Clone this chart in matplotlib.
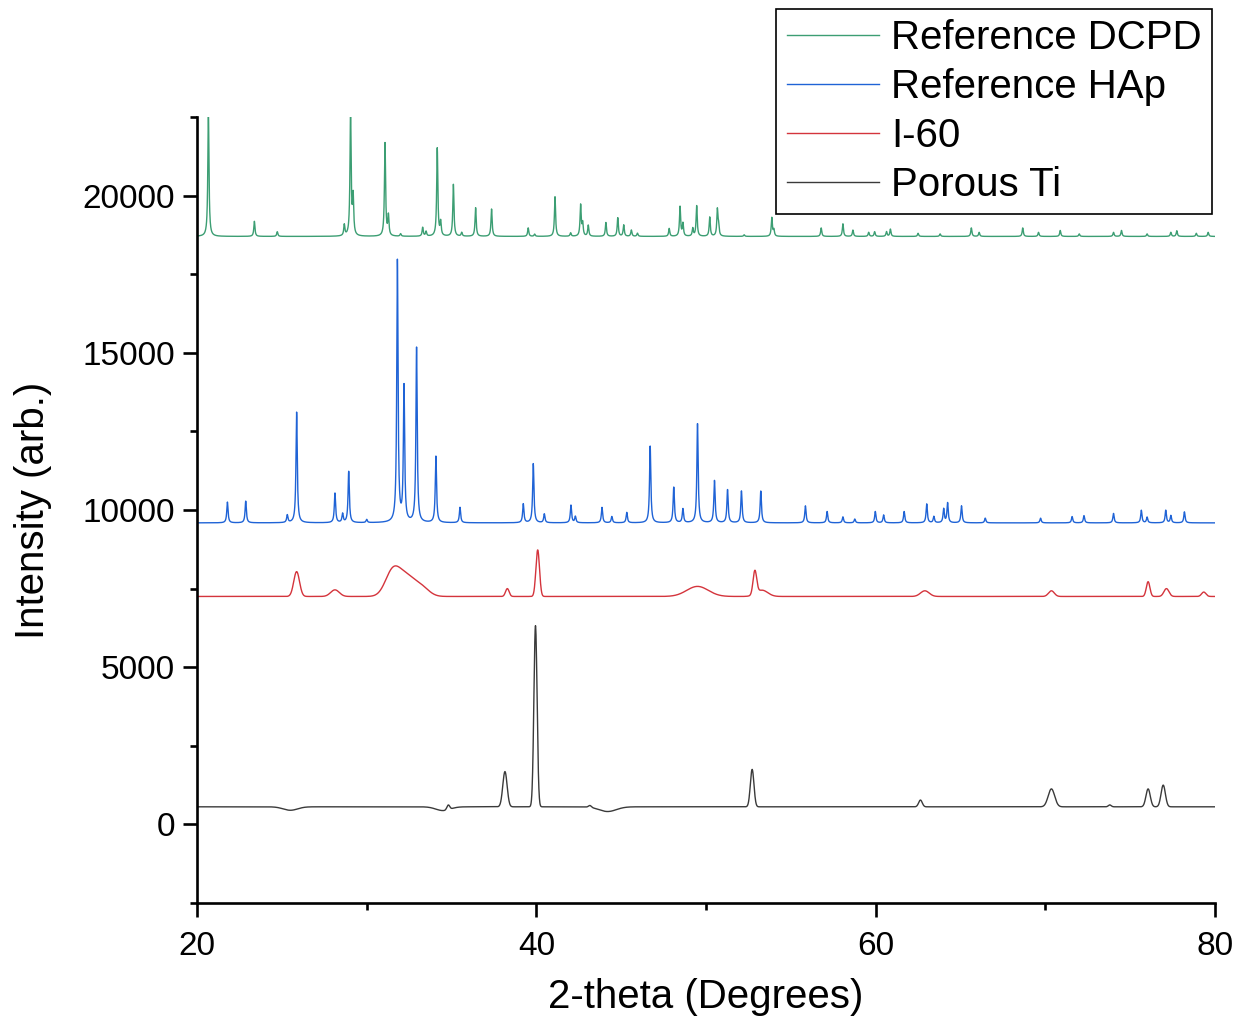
import numpy as np
import matplotlib
matplotlib.use('Agg')
import matplotlib.pyplot as plt
from matplotlib.ticker import MultipleLocator

plt.rcParams['font.family'] = ['Liberation Sans', 'DejaVu Sans']

# peak lists: position (deg), height above baseline, FWHM (deg)
dcpd_base = 18700
dcpd_pos = [20.67, 23.38, 24.73, 28.68, 29.05, 29.2, 31.08, 31.28, 32.0, 33.3, 33.5, 34.16, 34.36,
            35.11, 35.6, 36.42, 37.36, 39.52, 39.9, 41.1, 42.02, 42.61, 42.73, 43.06, 44.1, 44.8,
            45.15, 45.6, 45.96, 47.83, 48.47, 48.64, 49.22, 49.45, 50.22, 50.67, 50.74, 52.25,
            53.88, 54.0, 56.79, 58.07, 58.66, 59.59, 59.94, 60.64, 60.87, 62.5, 63.8, 65.64, 66.1,
            68.67, 69.6, 70.88, 72.0, 74.02, 74.49, 76.0, 77.4, 77.75, 78.9, 79.6]
dcpd_h = [3950, 480, 150, 350, 3950, 1200, 2960, 630, 80, 280, 150, 2800, 430,
          1650, 120, 910, 870, 270, 70, 1260, 110, 990, 400, 350, 440, 590,
          360, 200, 100, 250, 940, 400, 250, 970, 610, 830, 300, 50,
          590, 200, 270, 400, 200, 130, 150, 150, 230, 100, 80, 270, 130,
          270, 130, 190, 80, 130, 190, 80, 130, 180, 100, 130]

hap_base = 9590
hap_pos = [21.79, 22.87, 25.32, 25.87, 28.13, 28.58, 28.94, 30.0, 31.81, 32.2, 32.94, 34.08, 35.5,
           39.23, 39.82, 40.47, 42.04, 42.3, 43.87, 44.45, 45.33, 46.71, 48.1, 48.64, 49.5, 50.5,
           51.27, 52.09, 53.23, 55.86, 57.14, 58.07, 58.77, 59.98, 60.47, 61.68, 63.01, 63.43,
           64.01, 64.24, 65.06, 66.46, 69.72, 71.58, 72.28, 74.02, 75.66, 76.0, 77.1, 77.4, 78.2]
hap_h = [660, 690, 240, 3520, 940, 280, 1630, 100, 8320, 4300, 5560, 2110, 490,
         600, 1880, 280, 560, 200, 490, 200, 330, 2440, 1130, 440, 3150, 1340,
         1050, 1010, 1010, 540, 360, 190, 120, 360, 250, 360, 600, 200,
         440, 630, 540, 150, 150, 200, 230, 300, 400, 180, 400, 230, 350]

i60_base = 7250
i60_pos = [25.87, 28.13, 31.5, 32.3, 33.3, 38.29, 40.08, 49.5, 52.88, 53.3, 62.9, 70.36, 76.06, 77.14, 79.34]
i60_h = [790, 210, 650, 650, 200, 250, 1480, 320, 740, 200, 180, 180, 470, 250, 140]
i60_w = [0.4, 0.6, 1.0, 1.4, 1.0, 0.25, 0.25, 1.5, 0.25, 0.8, 0.6, 0.4, 0.25, 0.35, 0.3]

ti_base = 560
ti_pos = [25.5, 34.5, 34.81, 38.15, 39.95, 43.16, 44.2, 52.72, 62.64, 70.36, 73.8, 76.06, 76.95]
ti_h = [-110, -120, 150, 1120, 5760, 60, -150, 1190, 215, 570, 60, 570, 690]
ti_w = [1.0, 1.0, 0.2, 0.3, 0.22, 0.2, 1.2, 0.25, 0.25, 0.45, 0.2, 0.3, 0.3]

labels = ['Reference DCPD', 'Reference HAp', 'I-60', 'Porous Ti']
colors = ['#3c9e73', '#1f63d6', '#d4343c', '#3a3a3a']


def lorentz(x, pos, h, w):
    y = np.zeros_like(x)
    for p, a in zip(pos, h):
        y += a / (1 + ((x - p) / (w / 2)) ** 2)
    return y


def gauss(x, pos, h, w):
    y = np.zeros_like(x)
    for p, a, s in zip(pos, h, w):
        y += a * np.exp(-4 * np.log(2) * ((x - p) / s) ** 2)
    return y


def main():
    x = np.arange(20, 80.001, 0.01)
    curves = [
        dcpd_base + lorentz(x, dcpd_pos, dcpd_h, 0.08),
        hap_base + lorentz(x, hap_pos, hap_h, 0.09),
        i60_base + gauss(x, i60_pos, i60_h, i60_w),
        ti_base + gauss(x, ti_pos, ti_h, ti_w),
    ]

    fig = plt.figure(figsize=(12.4, 10.25), dpi=100)
    ax = fig.add_axes([0.1589, 0.119, 0.8209, 0.7669])
    for y, lab, c in zip(curves, labels, colors):
        ax.plot(x, y, color=c, lw=1.0, label=lab)

    ax.set_xlim(20, 80)
    ax.set_ylim(-2500, 22500)
    ax.xaxis.set_major_locator(MultipleLocator(20))
    ax.xaxis.set_minor_locator(MultipleLocator(10))
    ax.yaxis.set_major_locator(MultipleLocator(5000))
    ax.yaxis.set_minor_locator(MultipleLocator(2500))
    for s in ['top', 'right']:
        ax.spines[s].set_visible(False)
    for s in ['left', 'bottom']:
        ax.spines[s].set_linewidth(1.9)
    ax.tick_params(which='major', length=10, width=1.9, labelsize=24)
    ax.tick_params(axis='x', which='major', pad=10)
    ax.tick_params(axis='y', which='major', pad=6)
    ax.tick_params(which='minor', length=5, width=1.9)
    ax.set_xlabel('2-theta (Degrees)', fontsize=29, labelpad=12)
    ax.set_ylabel('Intensity (arb.)', fontsize=29, labelpad=22)

    leg = ax.legend(loc='upper right', bbox_to_anchor=(0.9774, 0.9912), bbox_transform=fig.transFigure,
                    borderaxespad=0, fontsize=29, frameon=True, fancybox=False, framealpha=1,
                    edgecolor='black', handlelength=2.3, handletextpad=0.3, labelspacing=0.27,
                    borderpad=0.25)
    leg.get_frame().set_linewidth(1.2)

    fig.savefig('out.png', dpi=100)


if __name__ == '__main__':
    main()
